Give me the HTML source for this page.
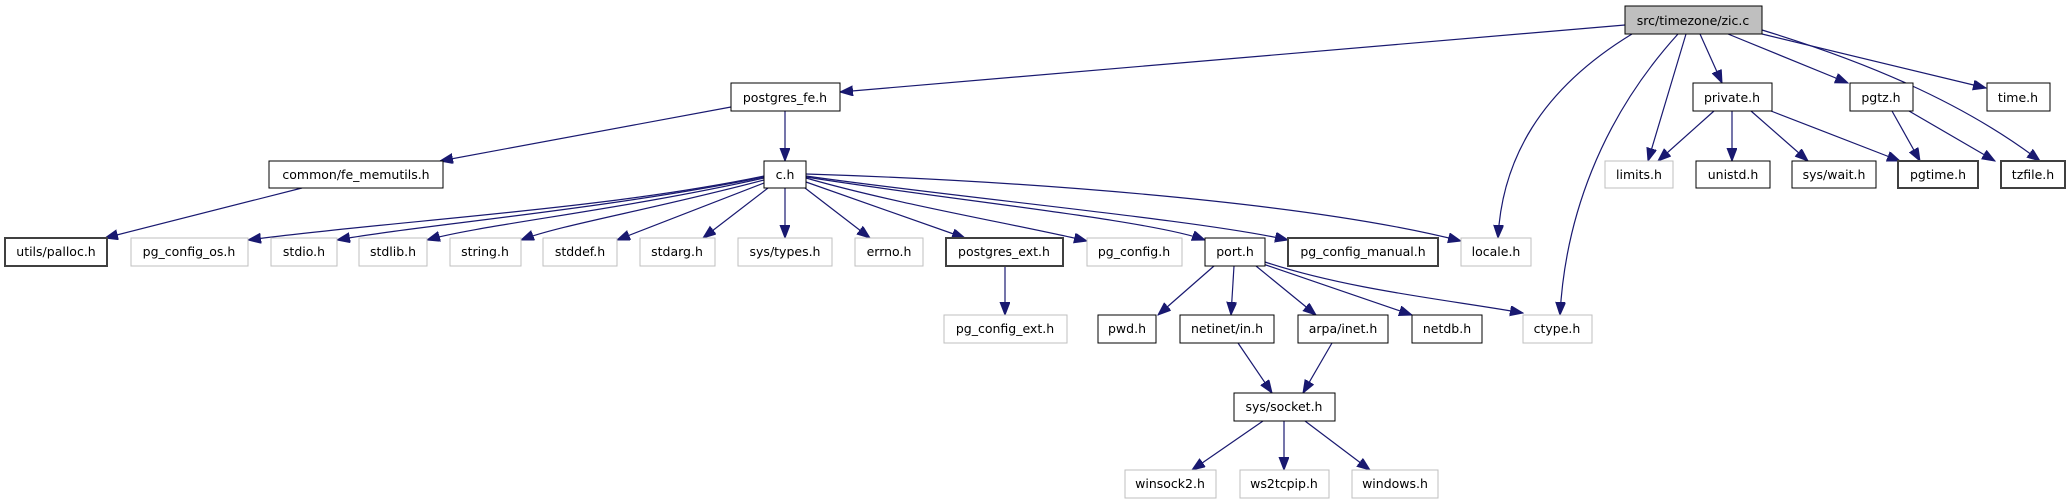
<!DOCTYPE html>
<html><head><meta charset="utf-8"><style>
html,body{margin:0;padding:0;background:#fff;}
svg{display:block;}
text{font-family:"DejaVu Sans","Liberation Sans",sans-serif;font-size:12.5px;fill:#000;text-anchor:middle;}
.n{fill:#fff;stroke:#000;stroke-width:1;}
.g{fill:#fff;stroke:#bfbfbf;stroke-width:1;}
.b{fill:#fff;stroke:#404040;stroke-width:2;}
.e{fill:none;stroke:#191970;stroke-width:1.2;marker-end:url(#a);}
</style></head><body>
<svg width="2069" height="504" viewBox="0 0 2069 504">
<defs><marker id="a" markerWidth="14" markerHeight="12" refX="13" refY="5" orient="auto" markerUnits="userSpaceOnUse"><path d="M0,0 L13,5 L0,10 Z" fill="#191970" stroke="#191970"/></marker></defs>
<path class="e" d="M1625,25 L840,92"/>
<path class="e" d="M1632,34 C1540,90 1502,160 1498,238"/>
<path class="e" d="M1686,34 L1648,161"/>
<path class="e" d="M1678,34 C1600,120 1565,220 1560,315"/>
<path class="e" d="M1700,34 L1722,83"/>
<path class="e" d="M1728,34 L1848,83"/>
<path class="e" d="M1762,34 L1986,88"/>
<path class="e" d="M1762,30 C1860,60 1960,100 2040,161"/>
<path class="e" d="M1714,111 L1658,161"/>
<path class="e" d="M1732,111 L1732,161"/>
<path class="e" d="M1751,111 L1808,161"/>
<path class="e" d="M1771,111 L1900,161"/>
<path class="e" d="M1892,111 L1920,161"/>
<path class="e" d="M1909,111 L1995,161"/>
<path class="e" d="M731,107 L440,161"/>
<path class="e" d="M785,111 L785,161"/>
<path class="e" d="M302,188 L105,238"/>
<path class="e" d="M764,176 C600,210 400,220 248,240"/>
<path class="e" d="M764,177 C600,210 420,225 337,240"/>
<path class="e" d="M764,178 C620,210 480,225 427,240"/>
<path class="e" d="M764,180 C650,210 560,225 521,240"/>
<path class="e" d="M764,183 L617,240"/>
<path class="e" d="M768,188 L703,238"/>
<path class="e" d="M785,188 L785,238"/>
<path class="e" d="M805,188 L870,238"/>
<path class="e" d="M806,182 L965,238"/>
<path class="e" d="M806,178 C900,205 1020,225 1087,241"/>
<path class="e" d="M806,177 C950,200 1150,220 1205,240"/>
<path class="e" d="M806,176 C960,198 1200,220 1288,240"/>
<path class="e" d="M806,174 C1000,180 1300,200 1461,241"/>
<path class="e" d="M1005,266 L1005,315"/>
<path class="e" d="M1214,266 L1158,315"/>
<path class="e" d="M1234,266 L1231,315"/>
<path class="e" d="M1256,266 L1316,315"/>
<path class="e" d="M1263,264 L1412,315"/>
<path class="e" d="M1265,262 C1350,290 1450,300 1523,313"/>
<path class="e" d="M1238,343 L1272,393"/>
<path class="e" d="M1332,343 L1303,393"/>
<path class="e" d="M1263,421 L1192,470"/>
<path class="e" d="M1284,421 L1284,470"/>
<path class="e" d="M1305,421 L1370,470"/>
<rect x="1625" y="6" width="137" height="28" fill="#bfbfbf" stroke="#000"/><text x="1693" y="25">src/timezone/zic.c</text>
<rect class="n" x="731" y="83" width="109" height="28"/><text x="785" y="102">postgres_fe.h</text>
<rect class="n" x="1693" y="83" width="79" height="28"/><text x="1732" y="102">private.h</text>
<rect class="n" x="1850" y="83" width="63" height="28"/><text x="1881" y="102">pgtz.h</text>
<rect class="n" x="1987" y="83" width="63" height="28"/><text x="2018" y="102">time.h</text>
<rect class="n" x="269" y="161" width="174" height="27"/><text x="356" y="179">common/fe_memutils.h</text>
<rect class="n" x="764" y="161" width="42" height="27"/><text x="785" y="179">c.h</text>
<rect class="g" x="1605" y="161" width="68" height="27"/><text x="1639" y="179">limits.h</text>
<rect class="n" x="1696" y="161" width="74" height="27"/><text x="1733" y="179">unistd.h</text>
<rect class="n" x="1792" y="161" width="84" height="27"/><text x="1834" y="179">sys/wait.h</text>
<rect class="b" x="1898" y="161" width="80" height="27"/><text x="1938" y="179">pgtime.h</text>
<rect class="b" x="2001" y="161" width="64" height="27"/><text x="2033" y="179">tzfile.h</text>
<rect class="b" x="5" y="238" width="102" height="28"/><text x="56" y="256">utils/palloc.h</text>
<rect class="g" x="131" y="238" width="117" height="28"/><text x="189" y="256">pg_config_os.h</text>
<rect class="g" x="271" y="238" width="66" height="28"/><text x="304" y="256">stdio.h</text>
<rect class="g" x="359" y="238" width="68" height="28"/><text x="393" y="256">stdlib.h</text>
<rect class="g" x="450" y="238" width="71" height="28"/><text x="485" y="256">string.h</text>
<rect class="g" x="543" y="238" width="74" height="28"/><text x="580" y="256">stddef.h</text>
<rect class="g" x="640" y="238" width="75" height="28"/><text x="677" y="256">stdarg.h</text>
<rect class="g" x="738" y="238" width="94" height="28"/><text x="785" y="256">sys/types.h</text>
<rect class="g" x="855" y="238" width="68" height="28"/><text x="889" y="256">errno.h</text>
<rect class="b" x="946" y="238" width="117" height="28"/><text x="1004" y="256">postgres_ext.h</text>
<rect class="g" x="1087" y="238" width="95" height="28"/><text x="1134" y="256">pg_config.h</text>
<rect class="n" x="1205" y="238" width="60" height="28"/><text x="1235" y="256">port.h</text>
<rect class="b" x="1288" y="238" width="150" height="28"/><text x="1363" y="256">pg_config_manual.h</text>
<rect class="g" x="1461" y="238" width="70" height="28"/><text x="1496" y="256">locale.h</text>
<rect class="g" x="944" y="315" width="123" height="28"/><text x="1005" y="333">pg_config_ext.h</text>
<rect class="n" x="1098" y="315" width="58" height="28"/><text x="1127" y="333">pwd.h</text>
<rect class="n" x="1180" y="315" width="94" height="28"/><text x="1227" y="333">netinet/in.h</text>
<rect class="n" x="1298" y="315" width="90" height="28"/><text x="1343" y="333">arpa/inet.h</text>
<rect class="n" x="1412" y="315" width="70" height="28"/><text x="1447" y="333">netdb.h</text>
<rect class="g" x="1523" y="315" width="69" height="28"/><text x="1557" y="333">ctype.h</text>
<rect class="n" x="1234" y="393" width="101" height="28"/><text x="1284" y="411">sys/socket.h</text>
<rect class="g" x="1125" y="470" width="91" height="28"/><text x="1170" y="488">winsock2.h</text>
<rect class="g" x="1240" y="470" width="89" height="28"/><text x="1284" y="488">ws2tcpip.h</text>
<rect class="g" x="1352" y="470" width="86" height="28"/><text x="1395" y="488">windows.h</text>
</svg>
</body></html>
